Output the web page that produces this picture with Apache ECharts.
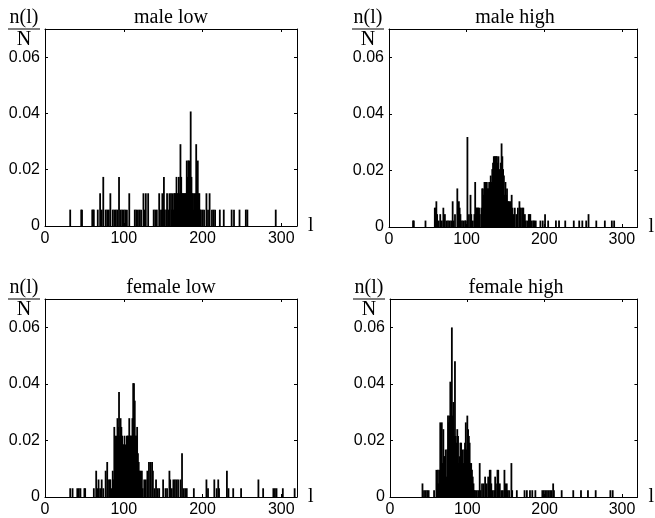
<!DOCTYPE html>
<html>
<head>
<meta charset="utf-8">
<script src="https://cdn.jsdelivr.net/npm/echarts@6/dist/echarts.min.js"></script>
<style>
  html, body { margin: 0; padding: 0; background: #fff; }
  #main { width: 655px; height: 518px; }
</style>
</head>
<body>
<div id="main"></div>
<script>
// n(l): count of items of length l; height drawn is n(l)/N
var maleLow = [[32,1],[46,1],[47,1],[60,1],[61,1],[62,1],[67,1],[70,2],[72,1],[74,3],[77,1],[79,1],[81,1],[83,2],[86,1],[88,1],[90,1],[92,1],[94,3],[96,1],[98,1],[100,1],[102,1],[104,1],[107,2],[114,1],[116,1],[118,1],[120,1],[122,1],[125,2],[126,1],[128,2],[131,2],[138,1],[140,1],[142,1],[145,2],[146,1],[148,1],[149,2],[151,3],[152,1],[154,1],[155,2],[157,1],[158,2],[160,2],[161,1],[162,2],[163,1],[164,2],[165,2],[166,2],[167,3],[168,2],[169,2],[170,3],[171,2],[172,5],[173,3],[174,2],[175,2],[176,2],[177,2],[178,2],[179,2],[180,4],[181,3],[182,4],[183,4],[184,2],[185,7],[186,3],[187,2],[188,2],[189,1],[190,2],[191,2],[192,5],[193,2],[194,4],[195,2],[196,2],[197,1],[198,1],[200,1],[202,1],[205,2],[207,1],[209,2],[212,1],[214,1],[216,1],[222,1],[227,1],[237,1],[240,1],[247,1],[255,1],[257,1],[293,1]];

var maleHigh = [[31,1],[32,1],[47,1],[59,3],[60,3],[61,4],[62,2],[64,1],[66,2],[68,1],[70,3],[72,2],[74,1],[76,1],[78,1],[80,1],[82,4],[83,1],[85,2],[88,6],[89,1],[90,4],[91,3],[92,2],[94,1],[96,1],[98,1],[99,1],[101,14],[103,2],[105,5],[106,2],[108,1],[110,2],[111,7],[112,3],[113,3],[114,3],[115,3],[116,3],[117,2],[119,3],[120,6],[121,6],[122,5],[123,7],[124,7],[125,6],[126,7],[127,6],[128,6],[129,7],[130,6],[131,8],[132,7],[133,9],[134,10],[135,11],[136,11],[137,11],[138,11],[139,11],[140,10],[141,11],[142,9],[143,8],[144,10],[145,13],[146,11],[147,9],[148,8],[149,5],[150,7],[151,5],[152,6],[153,4],[154,4],[155,4],[156,3],[157,4],[158,5],[159,3],[160,2],[162,3],[164,2],[166,3],[168,4],[169,3],[170,3],[172,3],[173,3],[175,2],[176,1],[178,1],[180,2],[181,2],[182,2],[184,1],[186,1],[187,1],[189,1],[195,1],[198,1],[201,2],[205,1],[215,1],[219,1],[227,1],[238,1],[245,1],[249,1],[254,1],[257,2],[267,1],[278,1],[287,1],[290,1]];

var femaleLow = [[32,1],[35,1],[41,1],[43,1],[45,1],[50,1],[51,1],[62,1],[65,3],[67,1],[68,2],[70,1],[72,2],[74,1],[77,3],[79,4],[80,2],[82,2],[83,2],[84,1],[86,3],[87,2],[88,8],[89,7],[90,6],[91,7],[92,9],[93,8],[94,12],[95,7],[96,9],[97,8],[98,7],[99,6],[100,6],[101,7],[102,6],[103,5],[104,7],[105,7],[106,7],[107,9],[108,7],[109,7],[110,7],[111,9],[112,13],[113,13],[114,11],[115,7],[116,7],[117,8],[118,5],[119,4],[120,3],[121,3],[122,2],[123,3],[124,1],[126,2],[128,2],[130,3],[132,4],[134,4],[136,4],[137,3],[139,1],[141,2],[143,1],[145,1],[150,2],[153,1],[155,1],[158,3],[159,2],[161,1],[163,2],[165,2],[167,2],[169,2],[172,2],[174,5],[176,1],[178,1],[180,1],[189,1],[205,2],[207,1],[215,2],[218,1],[220,2],[221,1],[231,3],[233,1],[239,1],[249,1],[271,2],[277,1],[290,1],[292,1],[294,1],[302,1],[317,1]];

var femaleHigh = [[42,2],[44,1],[46,1],[48,1],[50,1],[57,1],[60,4],[61,2],[62,4],[63,2],[64,4],[65,11],[66,10],[67,11],[68,5],[69,10],[70,6],[71,6],[72,7],[73,3],[74,7],[75,12],[76,11],[77,12],[78,17],[79,9],[80,25],[81,12],[82,14],[83,9],[84,20],[85,9],[86,8],[87,10],[88,9],[89,5],[90,6],[91,8],[92,8],[93,6],[94,7],[95,5],[96,7],[97,8],[98,11],[99,7],[100,12],[101,10],[102,9],[103,8],[104,5],[105,5],[106,4],[107,3],[108,2],[109,1],[110,1],[112,1],[114,1],[116,5],[117,1],[119,2],[121,2],[123,3],[125,2],[127,3],[129,4],[130,4],[131,2],[133,1],[135,1],[136,3],[137,2],[139,4],[140,4],[142,2],[144,1],[146,1],[148,4],[149,2],[151,2],[152,1],[154,1],[157,5],[158,1],[164,1],[174,1],[177,1],[181,1],[184,1],[188,1],[197,1],[199,1],[201,1],[203,1],[205,1],[207,1],[209,1],[211,2],[212,1],[222,1],[237,1],[247,1],[256,1],[266,1],[285,1],[288,1]];

var totals = [172, 440, 323, 417];
var titles = ['male low', 'male high', 'female low', 'female high'];
var xTicks = [0, 100, 200, 300];
var yTicks = [0, 0.02, 0.04, 0.06];

var chart = echarts.init(document.getElementById('main'), null, {renderer: 'canvas'});

var boxes = [
    {left: 45, top: 29, width: 252, height: 197},
    {left: 389, top: 29, width: 252, height: 198},
    {left: 45, top: 299, width: 252, height: 199},
    {left: 390, top: 299, width: 252, height: 199}
];
var sets = [maleLow, maleHigh, femaleLow, femaleHigh];

var serif = '"Liberation Serif", "Times New Roman", serif';
var sans = '"Liberation Sans", Arial, sans-serif';

var grid = [], xAxis = [], yAxis = [], series = [], graphic = [];

boxes.forEach(function (b, i) {
    grid.push({left: b.left, top: b.top, width: b.width, height: b.height, containLabel: false});

    var tick = {show: true, inside: true, length: 3, lineStyle: {color: '#000', width: 1}};
    var line = {show: true, onZero: false, lineStyle: {color: '#000', width: 1}};

    xAxis.push({
        gridIndex: i, type: 'value', min: 0, max: 320, interval: 100,
        position: 'bottom',
        axisLine: line, axisTick: tick, splitLine: {show: false},
        axisLabel: {
            color: '#000', fontFamily: sans, fontSize: 16, margin: 5,
            showMaxLabel: false,
            formatter: function (v) { return xTicks.indexOf(v) >= 0 ? String(v) : ''; }
        },
        name: 'l', nameLocation: 'end', nameGap: 11,
        nameTextStyle: {fontFamily: serif, fontSize: 20, color: '#000', verticalAlign: 'middle'}
    });
    xAxis.push({
        gridIndex: i, type: 'value', min: 0, max: 320, interval: 100,
        position: 'top',
        axisLine: line, axisTick: tick, axisLabel: {show: false}, splitLine: {show: false}
    });
    yAxis.push({
        gridIndex: i, type: 'value', min: 0, max: 0.07, interval: 0.02,
        position: 'left',
        axisLine: line, axisTick: tick, splitLine: {show: false},
        axisLabel: {
            color: '#000', fontFamily: sans, fontSize: 16, margin: 5,
            showMaxLabel: false,
            formatter: function (v) {
                var r = Math.round(v * 100) / 100;
                if (yTicks.indexOf(r) < 0) return '';
                return r === 0 ? '0' : r.toFixed(2);
            }
        }
    });
    yAxis.push({
        gridIndex: i, type: 'value', min: 0, max: 0.07, interval: 0.02,
        position: 'right',
        axisLine: line, axisTick: tick, axisLabel: {show: false}, splitLine: {show: false}
    });

    var N = totals[i];
    series.push({
        type: 'bar',
        xAxisIndex: i * 2,
        yAxisIndex: i * 2,
        barWidth: 1.8,
        itemStyle: {color: '#000'},
        data: sets[i].map(function (p) { return [p[0], p[1] / N]; })
    });

    // title above the box
    graphic.push({
        type: 'text', x: b.left + b.width / 2, y: b.top - 11,
        style: {text: titles[i], font: '20px ' + serif, fill: '#000', align: 'center', verticalAlign: 'middle'}
    });
    // n(l) / N fraction at top-left
    var fx = b.left - 21;
    graphic.push({
        type: 'text', x: fx, y: b.top - 11,
        style: {text: 'n(l)', font: '20px ' + serif, fill: '#000', align: 'center', verticalAlign: 'middle'}
    });
    graphic.push({
        type: 'line', shape: {x1: fx - 16, y1: b.top, x2: fx + 16, y2: b.top},
        style: {stroke: '#000', lineWidth: 1}
    });
    graphic.push({
        type: 'text', x: fx, y: b.top + 11,
        style: {text: 'N', font: '20px ' + serif, fill: '#000', align: 'center', verticalAlign: 'middle'}
    });
});

chart.setOption({
    backgroundColor: '#fff',
    animation: false,
    grid: grid,
    xAxis: xAxis,
    yAxis: yAxis,
    series: series,
    graphic: graphic
});
</script>
</body>
</html>
